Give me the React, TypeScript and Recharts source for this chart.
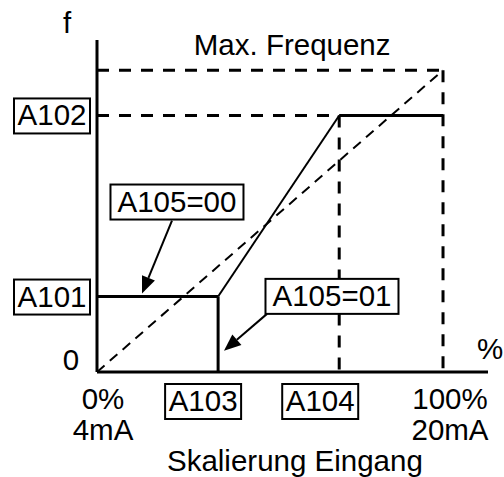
import React from "react";
import { ComposedChart, Line, XAxis, YAxis, ReferenceDot } from "recharts";

// input scaling parameters (percent of input / percent of max frequency)
const A101 = 25;
const A102 = 85;
const A103 = 35;
const A104 = 70;
const MAX = 100;

// x axis ticks
const xTicks = [0, A103, A104, MAX];
const xTickLabels = ["0%", "A103", "A104", "100%"];
const xTickSubLabels = ["4mA", "", "", "20mA"];
const xTickBoxed = [false, true, true, false];

// y axis ticks
const yTicks = [0, A101, A102];
const yTickLabels = ["0", "A101", "A102"];
const yTickBoxed = [false, true, true];

// solid characteristic
const lowStep = [{ x: 0, y: A101 }, { x: A103, y: A101 }];
const cutOff = [{ x: A103, y: A101 }, { x: A103, y: 0 }];
const ramp = [{ x: A103, y: A101 }, { x: A104, y: A102 }];
const highStep = [{ x: A104, y: A102 }, { x: MAX, y: A102 }];

// dashed guides
const maxLine = [{ x: 0, y: MAX }, { x: MAX, y: MAX }];
const maxDrop = [{ x: MAX, y: MAX }, { x: MAX, y: 0 }];
const a102Guide = [{ x: 0, y: A102 }, { x: A104, y: A102 }];
const a104Guide = [{ x: A104, y: A102 }, { x: A104, y: 0 }];
const diagonal = [{ x: 0, y: 0 }, { x: MAX, y: MAX }];

// callouts: text and the point the arrow points to
const callouts = [
  { text: "A105=00", x: 13, y: 26 },
  { text: "A105=01", x: 36.7, y: 7 },
];

const FONT = "'Liberation Sans', Arial, sans-serif";
const FS = 29.5;

// pixel offsets of callout boxes relative to arrow tip
const calloutStyle = [
  { boxDx: 35, boxBottom: -74, fromDx: 30, fromDy: -73 },
  { boxDx: 108, boxBottom: -37, fromDx: 43, fromDy: -37 },
];

const boxWidth = (t: string) => t.length * 19;

function BoxedText({ cx, baseline, text }: { cx: number; baseline: number; text: string }) {
  const w = boxWidth(text);
  return (
    <g>
      <rect x={cx - w / 2} y={baseline - 27} width={w} height={35} fill="#fff" stroke="#000" strokeWidth={2} />
      <text x={cx} y={baseline} textAnchor="middle" fontSize={FS} fontFamily={FONT} fill="#000">
        {text}
      </text>
    </g>
  );
}

const xTickDx = [6, -15, -19, 7];

const XTick = (props: any) => {
  const { x, y, payload } = props;
  const i = xTicks.indexOf(payload.value);
  if (i < 0) return null;
  const cx = x + xTickDx[i];
  return (
    <g>
      {xTickBoxed[i] ? (
        <BoxedText cx={cx} baseline={y + 39} text={xTickLabels[i]} />
      ) : (
        <text x={cx} y={y + 37} textAnchor="middle" fontSize={FS} fontFamily={FONT} fill="#000">
          {xTickLabels[i]}
        </text>
      )}
      {xTickSubLabels[i] && (
        <text x={cx} y={y + 68} textAnchor="middle" fontSize={FS} fontFamily={FONT} fill="#000">
          {xTickSubLabels[i]}
        </text>
      )}
    </g>
  );
};

const YTick = (props: any) => {
  const { x, y, payload } = props;
  const i = yTicks.indexOf(payload.value);
  if (i < 0) return null;
  if (yTickBoxed[i]) return <BoxedText cx={x - 45} baseline={y + 10} text={yTickLabels[i]} />;
  return (
    <text x={x - 26} y={y - 2} textAnchor="middle" fontSize={FS} fontFamily={FONT} fill="#000">
      {yTickLabels[i]}
    </text>
  );
};

const Callout = ({ cx, cy, idx }: { cx: number; cy: number; idx: number }) => {
  const s = calloutStyle[idx];
  const text = callouts[idx].text;
  const sx = cx + s.fromDx;
  const sy = cy + s.fromDy;
  const dx = cx - sx;
  const dy = cy - sy;
  const len = Math.sqrt(dx * dx + dy * dy);
  const ux = dx / len;
  const uy = dy / len;
  const hl = 17;
  const hw = 7;
  const bx = cx - ux * hl;
  const by = cy - uy * hl;
  const head = `${cx},${cy} ${bx - uy * hw},${by + ux * hw} ${bx + uy * hw},${by - ux * hw}`;
  return (
    <g>
      <line x1={sx} y1={sy} x2={bx} y2={by} stroke="#000" strokeWidth={2} />
      <polygon points={head} fill="#000" />
      <BoxedText cx={cx + s.boxDx} baseline={cy + s.boxBottom - 8} text={text} />
    </g>
  );
};

const FreeText = ({ cx, cy, dx, dy, text }: any) => (
  <text x={cx + dx} y={cy + dy} textAnchor="middle" fontSize={FS} fontFamily={FONT} fill="#000">
    {text}
  </text>
);

export default function App() {
  const solid = { stroke: "#000", dot: false, activeDot: false, isAnimationActive: false, type: "linear" as const };
  return (
    <div style={{ position: "absolute", left: 0, top: 0, background: "#fff" }}>
      <ComposedChart width={504} height={477} margin={{ top: 40, right: 16, bottom: 0, left: 0 }}>
        <XAxis
          type="number"
          dataKey="x"
          domain={[0, 113]}
          ticks={xTicks}
          allowDataOverflow
          height={105}
          axisLine={{ stroke: "#000", strokeWidth: 3 }}
          tickLine={false}
          tickSize={0}
          tickMargin={0}
          tick={<XTick />}
          interval={0}
        />
        <YAxis
          type="number"
          dataKey="y"
          domain={[0, 110]}
          ticks={yTicks}
          allowDataOverflow
          width={97}
          axisLine={{ stroke: "#000", strokeWidth: 3 }}
          tickLine={false}
          tickSize={0}
          tickMargin={0}
          tick={<YTick />}
          interval={0}
        />
        <Line data={diagonal} dataKey="y" {...solid} strokeWidth={2} strokeDasharray="10 7" />
        <Line data={maxLine} dataKey="y" {...solid} strokeWidth={3} strokeDasharray="12 10" />
        <Line data={maxDrop} dataKey="y" {...solid} strokeWidth={3} strokeDasharray="12 10" />
        <Line data={a102Guide} dataKey="y" {...solid} strokeWidth={3} strokeDasharray="12 10" />
        <Line data={a104Guide} dataKey="y" {...solid} strokeWidth={3} strokeDasharray="12 10" />
        <Line data={lowStep} dataKey="y" {...solid} strokeWidth={3} />
        <Line data={cutOff} dataKey="y" {...solid} strokeWidth={3} />
        <Line data={ramp} dataKey="y" {...solid} strokeWidth={2} />
        <Line data={highStep} dataKey="y" {...solid} strokeWidth={3} />
        {callouts.map((c, i) => (
          <ReferenceDot
            key={c.text}
            x={c.x}
            y={c.y}
            r={0}
            ifOverflow="visible"
            shape={(p: any) => <Callout cx={p.cx} cy={p.cy} idx={i} />}
          />
        ))}
        <ReferenceDot x={0} y={110} r={0} ifOverflow="visible"
          shape={(p: any) => <FreeText cx={p.cx} cy={p.cy} dx={-30} dy={-7} text="f" />} />
        <ReferenceDot x={113} y={0} r={0} ifOverflow="visible"
          shape={(p: any) => <FreeText cx={p.cx} cy={p.cy} dx={2} dy={-13} text="%" />} />
        <ReferenceDot x={56.4} y={MAX} r={0} ifOverflow="visible"
          shape={(p: any) => <FreeText cx={p.cx} cy={p.cy} dx={0} dy={-15} text="Max. Frequenz" />} />
        <ReferenceDot x={57.2} y={0} r={0} ifOverflow="visible"
          shape={(p: any) => <FreeText cx={p.cx} cy={p.cy} dx={0} dy={99} text="Skalierung Eingang" />} />
      </ComposedChart>
    </div>
  );
}
